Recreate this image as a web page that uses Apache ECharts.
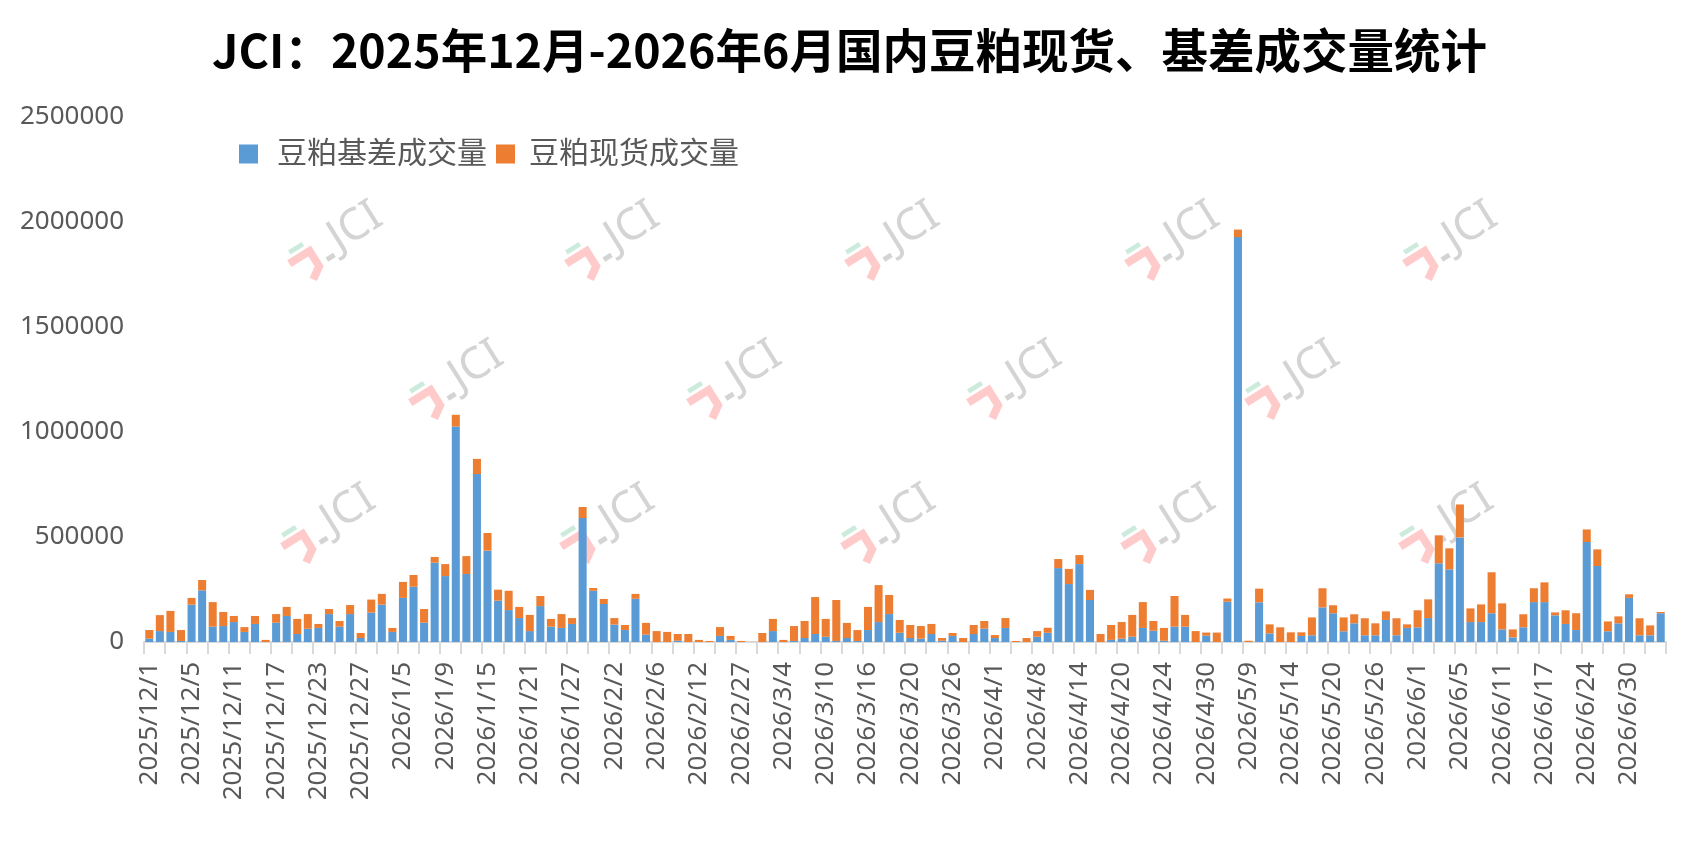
<!DOCTYPE html>
<html>
<head>
<meta charset="utf-8">
<script src="https://cdn.jsdelivr.net/npm/echarts@6/dist/echarts.min.js"></script>
<style>
  html, body { margin: 0; padding: 0; background: #fff; }
  #chart { width: 1699px; height: 841px; }
</style>
</head>
<body>
<div id="chart"></div>
<script>
// === Données ===
const titre = 'JCI：2025年12月-2026年6月国内豆粕现货、基差成交量统计';
const nomBase = '豆粕基差成交量';
const nomSpot = '豆粕现货成交量';

const dates = [
  '2025/12/1','2025/12/2','2025/12/3','2025/12/4','2025/12/5','2025/12/8','2025/12/9','2025/12/10',
  '2025/12/11','2025/12/12','2025/12/15','2025/12/16','2025/12/17','2025/12/18','2025/12/19','2025/12/22',
  '2025/12/23','2025/12/24','2025/12/25','2025/12/26','2025/12/27','2025/12/29','2025/12/30','2025/12/31',
  '2026/1/5','2026/1/6','2026/1/7','2026/1/8','2026/1/9','2026/1/12','2026/1/13','2026/1/14',
  '2026/1/15','2026/1/16','2026/1/19','2026/1/20','2026/1/21','2026/1/22','2026/1/23','2026/1/26',
  '2026/1/27','2026/1/28','2026/1/29','2026/1/30','2026/2/2','2026/2/3','2026/2/4','2026/2/5',
  '2026/2/6','2026/2/9','2026/2/10','2026/2/11','2026/2/12','2026/2/13','2026/2/25','2026/2/26',
  '2026/2/27','2026/2/28','2026/3/2','2026/3/3','2026/3/4','2026/3/5','2026/3/6','2026/3/9',
  '2026/3/10','2026/3/11','2026/3/12','2026/3/13','2026/3/16','2026/3/17','2026/3/18','2026/3/19',
  '2026/3/20','2026/3/23','2026/3/24','2026/3/25','2026/3/26','2026/3/27','2026/3/30','2026/3/31',
  '2026/4/1','2026/4/2','2026/4/3','2026/4/7','2026/4/8','2026/4/9','2026/4/10','2026/4/13',
  '2026/4/14','2026/4/15','2026/4/16','2026/4/17','2026/4/20','2026/4/21','2026/4/22','2026/4/23',
  '2026/4/24','2026/4/27','2026/4/28','2026/4/29','2026/4/30','2026/5/6','2026/5/7','2026/5/8',
  '2026/5/9','2026/5/11','2026/5/12','2026/5/13','2026/5/14','2026/5/15','2026/5/18','2026/5/19',
  '2026/5/20','2026/5/21','2026/5/22','2026/5/25','2026/5/26','2026/5/27','2026/5/28','2026/5/29',
  '2026/6/1','2026/6/2','2026/6/3','2026/6/4','2026/6/5','2026/6/8','2026/6/9','2026/6/10',
  '2026/6/11','2026/6/12','2026/6/15','2026/6/16','2026/6/17','2026/6/18','2026/6/22','2026/6/23',
  '2026/6/24','2026/6/25','2026/6/26','2026/6/29','2026/6/30','2026/7/1','2026/7/2','2026/7/3'
];

// 基差成交量 (bleu)
const volBase = [
  16000, 52000, 48000, 5000, 178000, 246000, 73000, 76000,
  95000, 48000, 86000, 0, 92000, 124000, 38000, 63000,
  67000, 133000, 73000, 133000, 19000, 140000, 178000, 48000,
  210000, 263000, 92000, 378000, 314000, 1026000, 324000, 800000,
  435000, 197000, 152000, 114000, 52000, 171000, 73000, 67000,
  86000, 590000, 244000, 181000, 83000, 57000, 206000, 35000,
  0, 0, 6000, 0, 0, 0, 29000, 10000,
  0, 0, 0, 52000, 0, 5000, 19000, 38000,
  25000, 5000, 19000, 5000, 57000, 95000, 133000, 44000,
  19000, 16000, 38000, 6000, 29000, 0, 38000, 64000,
  19000, 67000, 0, 0, 25000, 44000, 352000, 276000,
  371000, 200000, 0, 10000, 16000, 25000, 67000, 54000,
  6000, 73000, 73000, 0, 30000, 0, 192000, 1928000,
  0, 189000, 41000, 0, 0, 29000, 32000, 165000,
  137000, 51000, 89000, 32000, 32000, 105000, 32000, 67000,
  70000, 114000, 375000, 346000, 498000, 95000, 95000, 137000,
  60000, 22000, 70000, 190000, 190000, 127000, 86000, 57000,
  476000, 362000, 51000, 89000, 210000, 32000, 32000, 137000
];

// 现货成交量 (orange)
const volSpot = [
  41000, 76000, 100000, 52000, 32000, 49000, 117000, 67000,
  29000, 23000, 38000, 10000, 41000, 43000, 72000, 70000,
  19000, 24000, 27000, 43000, 24000, 62000, 51000, 19000,
  76000, 56000, 65000, 27000, 57000, 56000, 85000, 72000,
  84000, 52000, 92000, 53000, 77000, 48000, 37000, 66000,
  28000, 53000, 13000, 24000, 31000, 24000, 23000, 56000,
  52000, 48000, 32000, 38000, 10000, 5000, 42000, 19000,
  5000, 0, 43000, 58000, 10000, 71000, 81000, 176000,
  85000, 195000, 72000, 52000, 110000, 176000, 91000, 61000,
  62000, 60000, 48000, 13000, 14000, 19000, 43000, 36000,
  14000, 47000, 5000, 19000, 27000, 24000, 43000, 72000,
  43000, 48000, 38000, 71000, 79000, 104000, 123000, 46000,
  61000, 146000, 56000, 52000, 15000, 45000, 15000, 36000,
  6000, 65000, 43000, 70000, 46000, 17000, 85000, 91000,
  38000, 66000, 43000, 81000, 57000, 41000, 81000, 17000,
  81000, 89000, 133000, 100000, 157000, 65000, 84000, 195000,
  124000, 38000, 62000, 66000, 94000, 14000, 65000, 80000,
  60000, 79000, 47000, 33000, 17000, 81000, 47000, 6000
];

const yTicks = { min: 0, max: 2500000, interval: 500000 };

// === Filigrane JCI ===
const positionsFiligrane = [
  [349, 231], [626, 231], [906, 231], [1186, 231], [1464, 231],
  [470, 370], [748, 370], [1028, 370], [1306, 370],
  [342, 514], [621, 514], [902, 514], [1182, 514], [1460, 514]
];

function filigrane(x, y) {
  return {
    type: 'group',
    x: x, y: y,
    rotation: 0.56,
    z: 1,
    silent: true,
    children: [
      { type: 'polyline', shape: { points: [[-68, -4], [-44, -4], [-44, 14], [-56, 22]] },
        style: { stroke: '#ffcaca', lineWidth: 8, fill: null } },
      { type: 'rect', shape: { x: -62, y: -16, width: 16, height: 5 }, style: { fill: '#cdebdc' } },
      { type: 'rect', shape: { x: -34, y: 10, width: 9, height: 5 }, style: { fill: '#d4d4d4' } },
      { type: 'text', x: -20, y: 0,
        style: { text: 'JCI', fill: '#d4d4d4', font: '44px "Noto Sans"', verticalAlign: 'middle' } }
    ]
  };
}

// === Graphique ===
const chart = echarts.init(document.getElementById('chart'));
const police = '"Noto Sans", "Noto Sans CJK SC", sans-serif';

const option = {
  animation: false,
  title: {
    text: titre,
    left: 'center',
    top: 22,
    textStyle: { fontSize: 46.5, fontWeight: 'bold', color: '#000', fontFamily: '"Noto Sans CJK SC", sans-serif' }
  },
  legend: {
    left: 234,
    top: 134,
    itemWidth: 19,
    itemHeight: 19,
    itemGap: 9,
    icon: 'rect',
    textStyle: { fontSize: 30, color: '#595959', fontFamily: police, padding: [0, 0, 0, 14] },
    data: [
      { name: nomBase },
      { name: nomSpot, textStyle: { padding: [0, 0, 0, 9] } }
    ]
  },
  grid: { left: 144, right: 33, top: 117, bottom: 199 },
  xAxis: {
    type: 'category',
    data: dates,
    axisLine: { lineStyle: { color: '#d9d9d9', width: 2 } },
    axisTick: { show: true, interval: 1, length: 12, lineStyle: { color: '#d9d9d9', width: 2 } },
    axisLabel: { interval: 3, rotate: 90, margin: 20, fontSize: 26, color: '#595959', fontFamily: police }
  },
  yAxis: {
    type: 'value',
    min: yTicks.min,
    max: yTicks.max,
    interval: yTicks.interval,
    axisLine: { show: false },
    axisTick: { show: false },
    splitLine: { show: false },
    axisLabel: { margin: 20, fontSize: 26, color: '#595959', fontFamily: police, formatter: v => String(v) }
  },
  graphic: positionsFiligrane.map(p => filigrane(p[0], p[1])),
  series: [
    { name: nomBase, type: 'bar', stack: 'total', data: volBase, barCategoryGap: '24%',
      itemStyle: { color: '#5b9bd5' }, z: 2 },
    { name: nomSpot, type: 'bar', stack: 'total', data: volSpot, barCategoryGap: '24%',
      itemStyle: { color: '#ed7d31' }, z: 2 }
  ]
};
chart.setOption(option);
</script>
</body>
</html>
